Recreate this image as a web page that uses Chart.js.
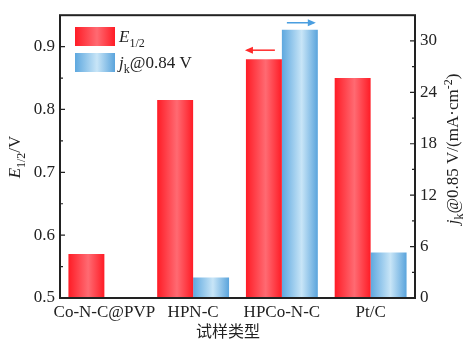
<!DOCTYPE html>
<html>
<head>
<meta charset="utf-8">
<script src="https://cdn.jsdelivr.net/npm/chart.js@4"></script>
<style>
  html, body { margin: 0; padding: 0; background: #fff; }
  #wrap { width: 465px; height: 340px; }
</style>
</head>
<body>
<div id="wrap"><canvas id="chart" width="465" height="340"></canvas></div>
<script>
const categories = ['Co-N-C@PVP', 'HPN-C', 'HPCo-N-C', 'Pt/C'];
const e12Values = [0.57, 0.815, 0.88, 0.85];
const jkValues = [null, 2.4, 31.3, 5.3];
const leftTicks = [0.5, 0.6, 0.7, 0.8, 0.9];
const rightTicks = [0, 6, 12, 18, 24, 30];

const SERIF = '"Liberation Serif", "Times New Roman", serif';
const CAT_PCT = 0.81;
const redStops = ['#ff1c26', '#ff6a72', '#ff1c26'];
const blueStops = ['#5ea8df', '#c8e5f7', '#5aa4dc'];

// horizontal gradient fill, computed from the x scale
function barFill(c) {
  const stops = c.datasetIndex === 0 ? redStops : blueStops;
  if (c.type !== 'data') return stops[0];
  const chart = c.chart;
  const xs = chart.scales.x;
  if (!xs || !chart.chartArea) return stops[0];
  const center = xs.getPixelForValue(c.dataIndex);
  const bw = xs.width / categories.length * CAT_PCT / 2;
  const left = c.datasetIndex === 0 ? center - bw : center;
  const g = chart.ctx.createLinearGradient(left, 0, left + bw, 0);
  g.addColorStop(0, stops[0]);
  g.addColorStop(0.55, stops[1]);
  g.addColorStop(1, stops[2]);
  return g;
}

// draw text runs with italic / sub / sup parts
function fontFor(r, size) {
  const s = r.sub || r.sup ? Math.round(size * 0.68) : size;
  return (r.it ? 'italic ' : '') + s + 'px ' + SERIF;
}
function richWidth(ctx, runs, size) {
  let w = 0;
  runs.forEach(r => {
    ctx.font = fontFor(r, size);
    w += ctx.measureText(r.t).width;
  });
  return w;
}
function drawRich(ctx, runs, x, y, size, align) {
  let cx = x;
  if (align === 'center') cx = x - richWidth(ctx, runs, size) / 2;
  ctx.textBaseline = 'alphabetic';
  ctx.textAlign = 'left';
  runs.forEach(r => {
    ctx.font = fontFor(r, size);
    let dy = 0;
    if (r.sub) dy = size * 0.28;
    if (r.sup) dy = -size * 0.38;
    ctx.fillText(r.t, cx, y + dy);
    cx += ctx.measureText(r.t).width;
  });
}

function arrow(ctx, x1, x2, y, color) {
  ctx.save();
  ctx.strokeStyle = color;
  ctx.fillStyle = color;
  ctx.lineWidth = 1.5;
  ctx.beginPath();
  ctx.moveTo(x1, y);
  ctx.lineTo(x2, y);
  ctx.stroke();
  const dir = x2 > x1 ? 1 : -1;
  ctx.beginPath();
  ctx.moveTo(x2 + dir * 2, y);
  ctx.lineTo(x2 - dir * 6, y - 3.5);
  ctx.lineTo(x2 - dir * 6, y + 3.5);
  ctx.closePath();
  ctx.fill();
  ctx.restore();
}

const decorations = {
  id: 'decorations',
  afterDraw(chart) {
    const ctx = chart.ctx;
    const a = chart.chartArea;
    const yl = chart.scales.y;
    const yr = chart.scales.y2;
    ctx.save();

    // frame
    ctx.strokeStyle = '#222';
    ctx.lineWidth = 2;
    ctx.strokeRect(a.left, a.top, a.right - a.left, a.bottom - a.top);

    // inward ticks, major + minor
    ctx.lineWidth = 1.2;
    ctx.beginPath();
    for (let i = 0; i < leftTicks.length; i++) {
      const p = yl.getPixelForValue(leftTicks[i]);
      ctx.moveTo(a.left, p); ctx.lineTo(a.left + 5, p);
      const m = yl.getPixelForValue(leftTicks[i] + 0.05);
      if (m > a.top) { ctx.moveTo(a.left, m); ctx.lineTo(a.left + 3, m); }
    }
    for (let i = 0; i < rightTicks.length; i++) {
      const p = yr.getPixelForValue(rightTicks[i]);
      ctx.moveTo(a.right, p); ctx.lineTo(a.right - 5, p);
      const m = yr.getPixelForValue(rightTicks[i] + 3);
      if (m > a.top) { ctx.moveTo(a.right, m); ctx.lineTo(a.right - 3, m); }
    }
    ctx.stroke();

    ctx.fillStyle = '#222';
    // left axis title
    ctx.save();
    ctx.translate(20, 157);
    ctx.rotate(-Math.PI / 2);
    drawRich(ctx, [{ t: 'E', it: true }, { t: '1/2', sub: true }, { t: '/V' }], 0, 0, 17, 'center');
    ctx.restore();

    // right axis title
    ctx.save();
    ctx.translate(458, 149);
    ctx.rotate(-Math.PI / 2);
    drawRich(ctx, [{ t: 'j', it: true }, { t: 'k', sub: true }, { t: '@0.85 V/(mA·cm' }, { t: '-2', sup: true }, { t: ')' }], 0, 0, 17, 'center');
    ctx.restore();

    // x axis title
    ctx.font = '16px "Noto Sans CJK SC", ' + SERIF;
    ctx.textAlign = 'center';
    ctx.textBaseline = 'middle';
    ctx.fillText('试样类型', 228, 331);

    // legend
    const boxes = [
      { stops: redStops, y: 27, runs: [{ t: 'E', it: true }, { t: '1/2', sub: true }] },
      { stops: blueStops, y: 53, runs: [{ t: 'j', it: true }, { t: 'k', sub: true }, { t: '@0.84 V' }] }
    ];
    boxes.forEach(b => {
      const g = ctx.createLinearGradient(75, 0, 115, 0);
      g.addColorStop(0, b.stops[0]);
      g.addColorStop(0.55, b.stops[1]);
      g.addColorStop(1, b.stops[2]);
      ctx.fillStyle = g;
      ctx.fillRect(75, b.y, 40, 19);
      ctx.fillStyle = '#222';
      drawRich(ctx, b.runs, 119, b.y + 15, 17, 'left');
    });

    // arrows above HPCo-N-C bars
    const red = chart.getDatasetMeta(0).data[2];
    const blue = chart.getDatasetMeta(1).data[2];
    arrow(ctx, red.x + red.width / 2 - 7, red.x - red.width / 2 + 1, red.y - 9, '#ff2a2a');
    arrow(ctx, blue.x - blue.width / 2 + 5, blue.x + blue.width / 2 - 4, blue.y - 7, '#4a9ee0');

    ctx.restore();
  }
};

new Chart(document.getElementById('chart'), {
  type: 'bar',
  data: {
    labels: categories,
    datasets: [
      {
        label: 'E1/2',
        data: e12Values,
        yAxisID: 'y',
        backgroundColor: barFill,
        borderWidth: 0,
        barPercentage: 1,
        categoryPercentage: CAT_PCT,
        base: 0.5
      },
      {
        label: 'jk@0.84 V',
        data: jkValues,
        yAxisID: 'y2',
        backgroundColor: barFill,
        borderWidth: 0,
        barPercentage: 1,
        categoryPercentage: CAT_PCT
      }
    ]
  },
  options: {
    responsive: false,
    animation: false,
    layout: { padding: { top: 13, left: 0, right: 0, bottom: 0 } },
    plugins: {
      legend: { display: false },
      tooltip: { enabled: false }
    },
    scales: {
      x: {
        grid: { display: false, drawTicks: false },
        border: { display: false },
        ticks: { color: '#222', font: { family: SERIF, size: 17 }, padding: 4, maxRotation: 0, autoSkip: false },
        afterFit: s => { s.height = 42; }
      },
      y: {
        position: 'left',
        min: 0.5,
        max: 0.95,
        grid: { display: false, drawTicks: false },
        border: { display: false },
        afterBuildTicks: s => { s.ticks = leftTicks.map(v => ({ value: v })); },
        ticks: { color: '#222', font: { family: SERIF, size: 17 }, padding: 5, callback: v => v.toFixed(1) },
        afterFit: s => { s.width = 60; }
      },
      y2: {
        position: 'right',
        min: 0,
        max: 33,
        grid: { display: false, drawTicks: false },
        border: { display: false },
        afterBuildTicks: s => { s.ticks = rightTicks.map(v => ({ value: v })); },
        ticks: { color: '#222', font: { family: SERIF, size: 17 }, padding: 5 },
        afterFit: s => { s.width = 50; }
      }
    }
  },
  plugins: [decorations]
});
</script>
</body>
</html>
